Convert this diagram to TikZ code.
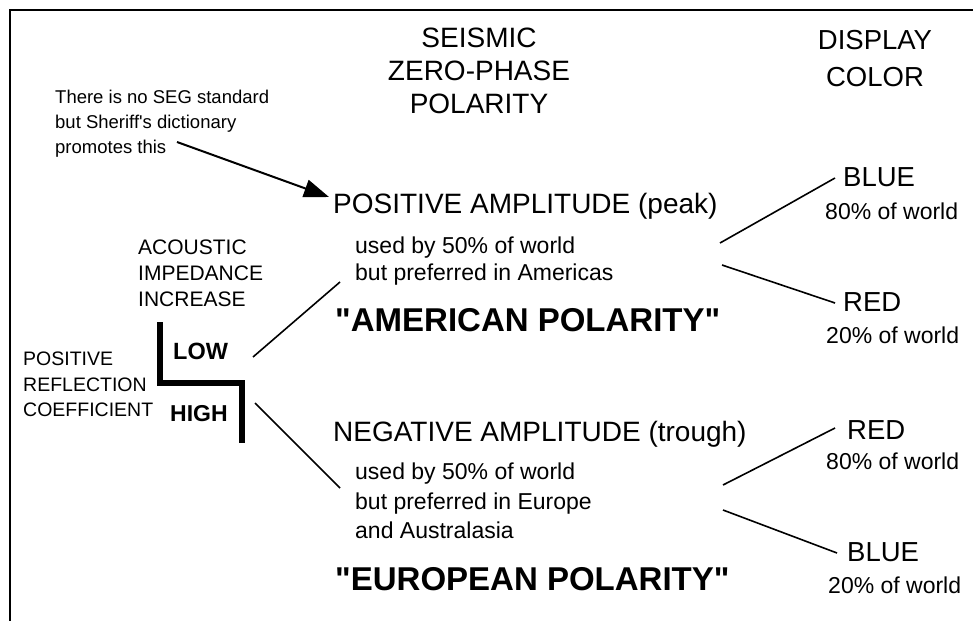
\documentclass[tikz,border=0pt]{standalone}
\usepackage{fontspec}
\setmainfont{Liberation Sans}[Ligatures=TeXOff]
\usetikzlibrary{arrows.meta}
\newcommand{\fsz}[2]{\fontsize{#1}{#2}\selectfont}
\begin{document}
\begin{tikzpicture}[x=1pt, y=-1pt,
  txt/.style={inner sep=0pt, anchor=north west, align=left},
  head/.style={inner sep=0pt, anchor=north, align=center, font=\fsz{28}{33}},
  amp/.style={txt, font=\fsz{28}{33}},
  use/.style={txt, font=\fsz{23}{27}},
  pol/.style={txt, font=\fsz{33}{38}\bfseries},
  col/.style={txt, font=\fsz{27.5}{32}},
  share/.style={txt, font=\fsz{23}{27}},
  link/.style={line width=1.6pt}]
\useasboundingbox (0,0) rectangle (973,623);
\draw[line width=2.2pt] (973,10) -| (10,621);
\node[head] (seismic) at (479,28){SEISMIC\\ZERO-PHASE\\POLARITY};
\node[head, font=\fsz{27.5}{37}] (display) at (875,30){DISPLAY\\COLOR};
\node[txt, font=\fsz{18.5}{25}] (note) at (55,90){There is no SEG standard\\but Sheriff's dictionary\\promotes this};
\node[amp] (posamp) at (333,193){POSITIVE AMPLITUDE (peak)};
\node[use] (posuse) at (355,237){used by 50\% of world\\but preferred in Americas};
\node[pol] (amer) at (335,308){"AMERICAN POLARITY"};
\node[amp] (negamp) at (333,421){NEGATIVE AMPLITUDE (trough)};
\node[use, font=\fsz{23}{29.5}] (neguse) at (355,463){used by 50\% of world\\but preferred in Europe\\and Australasia};
\node[pol] (euro) at (335,567){"EUROPEAN POLARITY"};
\node[col] (blueA) at (843,167){BLUE};
\node[share] (blueAs) at (825,203){80\% of world};
\node[col] (redA) at (843,292){RED};
\node[share] (redAs) at (826,327){20\% of world};
\node[col] (redB) at (847,420){RED};
\node[share] (redBs) at (826,453){80\% of world};
\node[col] (blueB) at (847,542){BLUE};
\node[share] (blueBs) at (828,577){20\% of world};
\node[txt, font=\fsz{21}{26}] (acoustic) at (138,240){ACOUSTIC\\IMPEDANCE\\INCREASE};
\node[txt, font=\fsz{19.5}{25.5}] (refl) at (23,352){POSITIVE\\REFLECTION\\COEFFICIENT};
\node[txt, font=\fsz{23.5}{28}\bfseries] (low) at (173,343){LOW};
\node[txt, font=\fsz{23}{28}\bfseries] (high) at (170,405){HIGH};
\draw[line width=6.5pt] (160,322) |- (242,383) -- (242,443);
\coordinate (noteend) at (177,142);
\coordinate (posin) at (329,197);
\draw[line width=2pt, -{Triangle[length=25pt, width=18pt]}] (noteend) -- (posin);
\coordinate (lowend) at (253,357);
\coordinate (posstart) at (340,282);
\coordinate (highend) at (255,403);
\coordinate (negstart) at (340,488);
\draw[link] (lowend) -- (posstart);
\draw[link] (highend) -- (negstart);
\coordinate (posout) at (720,243);
\coordinate (posout2) at (722,265);
\coordinate (negout) at (723,485);
\coordinate (negout2) at (723,510);
\draw[link] (posout) -- (835,178);
\draw[link] (posout2) -- (835,303);
\draw[link] (negout) -- (835,428);
\draw[link] (negout2) -- (837,553);
\end{tikzpicture}
\end{document}
